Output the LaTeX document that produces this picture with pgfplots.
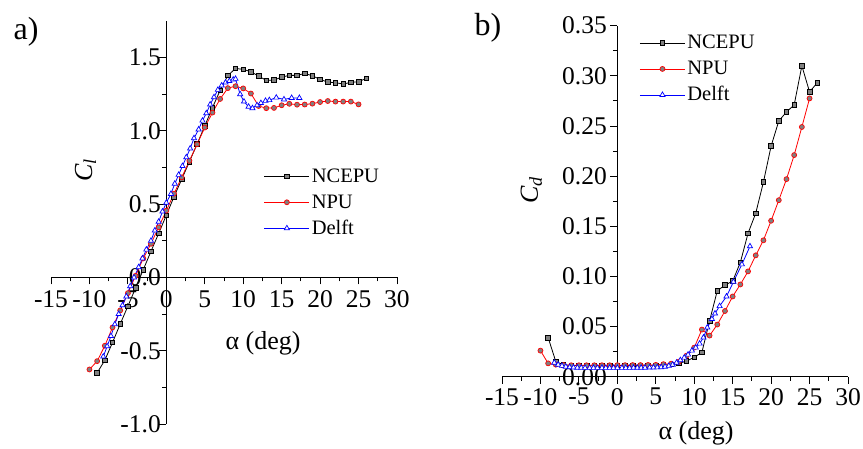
\documentclass[border=0pt]{standalone}
\usepackage{fontspec}
\setmainfont{Liberation Serif}
\usepackage{pgfplots}
\pgfplotsset{compat=1.18}
\definecolor{mkgray}{RGB}{128,128,128}
\pgfplotsset{
  myaxis/.style={
    scale only axis,
    axis lines=middle,
    axis line style={-, line width=1.1pt},
    hide obscured x ticks=false, hide obscured y ticks=false,
    tick align=outside,
    major tick length=7pt, minor tick length=4pt,
    every tick/.append style={black, line width=0.9pt},
    minor x tick num=1, minor y tick num=1,
    /pgf/number format/assume math mode=true,
    tick label style={font=\fontsize{25.5}{30}\selectfont},
    label style={font=\fontsize{26}{31}\selectfont},
    clip=false,
    xmin=-15, xmax=30, xtick={-15,-10,...,30},
    legend cell align=left,
    legend image code/.code={\draw[mark repeat=2,mark phase=2] plot coordinates {(0pt,0pt) (22.5pt,0pt) (45pt,0pt)};},
    legend style={draw=none, fill=none, font=\fontsize{20.5}{24}\selectfont, inner sep=0pt,
      row sep=6pt, nodes={inner sep=2pt, text height=14pt, text depth=2pt}},
  },
  sNC/.style={black, line width=0.8pt, mark=square*, mark size=2.3pt, mark options={fill=mkgray, draw=black, line width=0.7pt}},
  sNP/.style={red, line width=0.8pt, mark=*, mark size=2.5pt, mark options={fill=mkgray, draw=red, line width=0.7pt}},
  sDE/.style={blue, line width=0.8pt, mark=triangle*, mark size=3pt, mark options={fill=white, draw=blue, line width=0.7pt}},
}
\begin{document}
\begin{tikzpicture}[x=1pt,y=1pt]
\path[use as bounding box] (0,0) rectangle (863,448);
\node[font=\fontsize{32}{38}\selectfont] at (26,416) {a)};
\node[font=\fontsize{32}{38}\selectfont] at (488,420) {b)};
\begin{axis}[myaxis, at={(51pt,24pt)}, anchor=south west, width=346pt, height=403pt,
  ymin=-1, ymax=1.75, ytick={-1,-0.5,0,0.5,1,1.5},
  yticklabel style={xshift=5pt, /pgf/number format/.cd, fixed, fixed zerofill, precision=1},
  xticklabel style={yshift=-3pt},
  xlabel={α (deg)}, ylabel={\textit{C}\textsubscript{\textit{l}}},
  xlabel style={at={(axis description cs:0.613,0.201)}, anchor=center},
  ylabel style={at={(axis description cs:0.1,0.630)}, anchor=center, rotate=90},
  legend style={at={(axis description cs:0.615,0.64)}, anchor=north west},
]
\addplot[sNC] coordinates {
(-9,-0.651) (-8,-0.565) (-7,-0.444) (-6,-0.318) (-5,-0.196) (-4,-0.072) (-3,0.053) (-2,0.178) (-1,0.300)
(0,0.425) (1,0.551) (2,0.670) (3,0.790) (4,0.910) (5,1.034) (6,1.159) (7,1.277) (8,1.378) (9,1.426)
(10,1.420) (11,1.404) (12,1.374) (13,1.345) (14,1.347) (15,1.367) (16,1.379) (17,1.379) (18,1.392)
(19,1.376) (20,1.351) (21,1.333) (22,1.329) (23,1.320) (24,1.331) (25,1.336) (26,1.358)};
\addlegendentry{NCEPU}
\addplot[sNP] coordinates {
(-10,-0.628) (-9,-0.571) (-8,-0.466) (-7,-0.341) (-6,-0.225) (-5,-0.107) (-4,0.011) (-3,0.130) (-2,0.230)
(-1,0.342) (0,0.456) (1,0.572) (2,0.683) (3,0.796) (4,0.909) (5,1.023) (6,1.125) (7,1.218) (8,1.292)
(9,1.305) (10,1.290) (11,1.255) (12,1.170) (13,1.155) (14,1.157) (15,1.175) (16,1.185) (17,1.179)
(18,1.180) (19,1.186) (20,1.197) (21,1.204) (22,1.200) (23,1.200) (24,1.200) (25,1.181)};
\addlegendentry{NPU}
\addplot[sDE] coordinates {
(-8.2,-0.54) (-7.7,-0.47) (-7.2,-0.40) (-6.7,-0.32) (-6.2,-0.25) (-5.7,-0.19) (-5.2,-0.13) (-4.7,-0.06)
(-4.2,0.00) (-3.6,0.07) (-3.1,0.13) (-2.6,0.19) (-2.0,0.25) (-1.5,0.32) (-1.0,0.38) (-0.5,0.45)
(0.0,0.51) (0.6,0.57) (1.1,0.64) (1.6,0.70) (2.1,0.76) (2.6,0.82) (3.1,0.88) (3.6,0.95) (4.2,1.01)
(4.7,1.07) (5.2,1.12) (5.7,1.18) (6.2,1.23) (6.7,1.28) (7.2,1.31) (7.7,1.33) (8.2,1.34) (8.7,1.35)
(9.0,1.355) (9.6,1.25) (10.1,1.20) (10.7,1.165) (11.2,1.155) (11.8,1.175) (12.3,1.19) (12.9,1.205)
(13.4,1.21) (14.3,1.227) (15.3,1.215) (16.3,1.225) (17.3,1.225)};
\addlegendentry{Delft}
\end{axis}
\begin{axis}[myaxis, at={(502pt,71.3pt)}, anchor=south west, width=346pt, height=351pt,
  ymin=0, ymax=0.35, ytick={0,0.05,...,0.35},
  yticklabel style={/pgf/number format/.cd, fixed, fixed zerofill, precision=2},
  xticklabel style={yshift=-1pt},
  xlabel={α (deg)}, ylabel={\textit{C}\textsubscript{\textit{d}}},
  xlabel style={at={(axis description cs:0.561,-0.160)}, anchor=center},
  ylabel style={at={(axis description cs:0.085,0.532)}, anchor=center, rotate=90},
  legend style={at={(axis description cs:0.397,0.98)}, anchor=north west},
]
\addplot[sNC] coordinates {
(-9,0.039) (-8,0.015) (-7,0.012) (-6,0.0112) (-5,0.0110) (-4,0.0110) (-3,0.0110) (-2,0.0110) (-1,0.0110)
(0,0.0112) (1,0.0112) (2,0.0113) (3,0.0113) (4,0.0114) (5,0.0115) (6,0.0117) (7,0.0122) (8,0.0132)
(9,0.0156) (10,0.0193) (11,0.0243) (12,0.0558) (13,0.0857) (14,0.0913) (15,0.0953) (16,0.114)
(17,0.143) (18,0.163) (19,0.194) (20,0.230) (21,0.255) (22,0.264) (23,0.271) (24,0.310) (25,0.284) (26,0.293)};
\addlegendentry{NCEPU}
\addplot[sNP] coordinates {
(-10,0.026) (-9,0.0133) (-8,0.0120) (-7,0.0116) (-6,0.0114) (-5,0.0114) (-4,0.0114) (-3,0.0114) (-2,0.0114)
(-1,0.0114) (0,0.0115) (1,0.0115) (2,0.0116) (3,0.0116) (4,0.0117) (5,0.0118) (6,0.0125) (7,0.0130)
(8,0.0150) (9,0.0210) (10,0.0290) (11,0.0470) (12,0.0410) (13,0.0520) (14,0.0655) (15,0.0800)
(16,0.0920) (17,0.1050) (18,0.1210) (19,0.1360) (20,0.1555) (21,0.1760) (22,0.1970) (23,0.2210)
(24,0.2490) (25,0.2775)};
\addlegendentry{NPU}
\addplot[sDE] coordinates {
(-8.2,0.0140) (-7.7,0.0120) (-7.2,0.0108) (-6.7,0.0100) (-6.2,0.0095) (-5.7,0.0092) (-5.2,0.0090)
(-4.7,0.0089) (-4.2,0.0088) (-3.6,0.0088) (-3.1,0.0088) (-2.6,0.0088) (-2.0,0.0088) (-1.5,0.0088)
(-1.0,0.0088) (-0.5,0.0088) (0.0,0.0088) (0.6,0.0088) (1.1,0.0088) (1.6,0.0088) (2.1,0.0089)
(2.6,0.0089) (3.1,0.0089) (3.6,0.0090) (4.2,0.0091) (4.7,0.0092) (5.2,0.0093) (5.7,0.0095)
(6.2,0.0100) (6.7,0.0108) (7.2,0.0120) (7.7,0.0140) (8.2,0.0165) (8.7,0.0190) (9.2,0.0220)
(9.7,0.0260) (10.2,0.0290) (10.7,0.0330) (11.2,0.0390) (11.7,0.0490) (12.3,0.0575) (12.7,0.0630)
(13.3,0.0704) (14.2,0.0800) (15.1,0.0946) (16.2,0.1120) (17.25,0.1300)};
\addlegendentry{Delft}
\end{axis}
\end{tikzpicture}
\end{document}
